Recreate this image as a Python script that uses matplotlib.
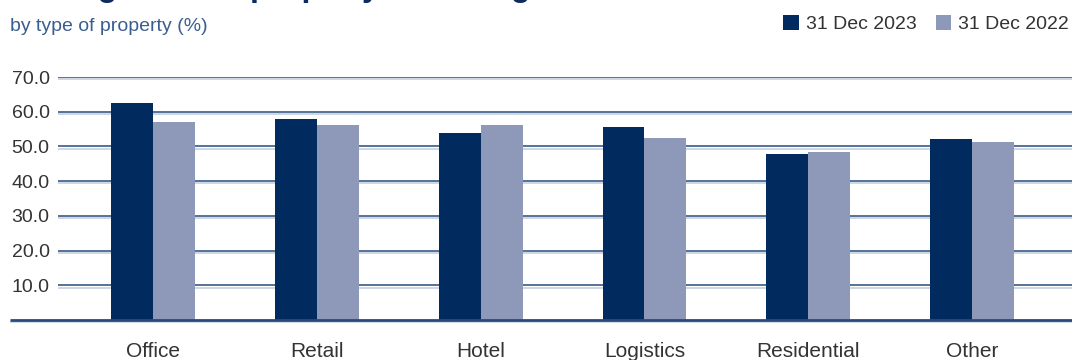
import matplotlib
matplotlib.use('Agg')
import matplotlib.pyplot as plt
import matplotlib.transforms as mtransforms
from matplotlib.patches import Patch
import numpy as np

plt.rcParams['font.family'] = ['Liberation Sans', 'DejaVu Sans']

# ── data ─────────────────────────────────────────────
categories = ['Office', 'Retail', 'Hotel', 'Logistics', 'Residential', 'Other']
ltv_2023 = [62.4, 57.8, 54.0, 55.5, 47.7, 52.0]
ltv_2022 = [56.9, 56.1, 56.3, 52.3, 48.4, 51.2]
series_labels = ['31 Dec 2023', '31 Dec 2022']
y_ticks = [10, 20, 30, 40, 50, 60, 70]

NAVY = '#012a5e'
LILAC = '#8e98b9'
GRID = '#284b7c'
GRID_SHADOW = '#c9d3e2'
TEXT = '#333333'

fig = plt.figure(figsize=(10.72, 3.6), dpi=100)
ax = fig.add_axes([58 / 1072, 40 / 360, 1 - 58 / 1072, (320 - 77) / 360])

x = np.arange(len(categories))
w = 0.256
ax.bar(x - w / 2, ltv_2023, width=w, color=NAVY, zorder=3, linewidth=0)
ax.bar(x + w / 2, ltv_2022, width=w, color=LILAC, zorder=3, linewidth=0)

ax.set_xlim(-0.58, 5.61)
ax.set_ylim(0, 70)

# gridlines: dark line with a light line just under it
blend = mtransforms.blended_transform_factory(ax.transAxes, ax.transData)
shadow = mtransforms.offset_copy(blend, fig=fig, x=0, y=-1.6, units='points')
for t in y_ticks:
    ax.plot([0, 1], [t, t], color=GRID_SHADOW, lw=1.3, zorder=1, transform=shadow,
            solid_capstyle='butt')
    ax.plot([0, 1], [t, t], color=GRID, lw=1.1, zorder=2, transform=blend,
            solid_capstyle='butt')

# baseline runs out past the tick labels
x0 = -48 / 1014
ax.plot([x0, 1], [0, 0], color=GRID_SHADOW, lw=1.2, zorder=1, transform=shadow,
        clip_on=False, solid_capstyle='butt')
ax.plot([x0, 1], [0, 0], color=GRID, lw=2.0, zorder=4, transform=blend,
        clip_on=False, solid_capstyle='butt')

for s in ax.spines.values():
    s.set_visible(False)

ax.set_yticks(y_ticks)
ax.set_yticklabels([f'{v:.1f}' for v in y_ticks])
ax.set_xticks(x)
ax.set_xticklabels(categories)
ax.tick_params(axis='y', length=0, pad=6, labelsize=14, labelcolor=TEXT)
ax.tick_params(axis='x', length=0, pad=16, labelsize=15, labelcolor=TEXT)

# title (runs off the top edge) and subtitle
fig.text(10 / 1072, 1 + 4 / 360, 'Average LTV of property financing', fontsize=23,
         fontweight='bold', color='#0d2b5e', ha='left', va='baseline')
fig.text(10 / 1072, 1 - 31 / 360, 'by type of property (%)', fontsize=14,
         color='#3a5f8f', ha='left', va='baseline')

handles = [Patch(facecolor=NAVY), Patch(facecolor=LILAC)]
fig.legend(handles, series_labels, loc='upper right', bbox_to_anchor=(1069 / 1072, 1 - 15 / 360),
           ncol=2, frameon=False, fontsize=14, handlelength=0.8, handleheight=0.8,
           handletextpad=0.35, columnspacing=1.0, labelcolor=TEXT, borderaxespad=0,
           borderpad=0)

fig.savefig('out.png', dpi=100)
